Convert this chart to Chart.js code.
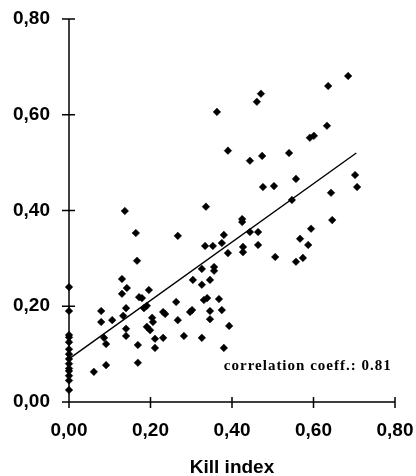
<!DOCTYPE html>
<html>
<head>
<meta charset="utf-8">
<script src="https://cdn.jsdelivr.net/npm/chart.js@4/dist/chart.umd.min.js"></script>
<style>
  html, body { margin: 0; padding: 0; background: #fff; }
  #wrap { width: 416px; height: 476px; }
</style>
</head>
<body>
<div id="wrap"><canvas id="killChart" width="416" height="476"></canvas></div>
<script>
// kill index (x) and measured value (y) for each sample
const killIndex = [
  0, 0, 0, 0, 0, 0, 0, 0, 0, 0, 0, 0, 0, 0,
  0.061, 0.079, 0.079, 0.086, 0.091, 0.091, 0.106, 0.130, 0.130, 0.133,
  0.137, 0.140, 0.140, 0.140, 0.142, 0.164, 0.167, 0.169, 0.169, 0.172,
  0.179, 0.184, 0.191, 0.196, 0.191, 0.199, 0.204, 0.206, 0.211, 0.211,
  0.231, 0.236, 0.231, 0.263, 0.267, 0.267, 0.282, 0.297, 0.302, 0.304,
  0.326, 0.326, 0.326, 0.331, 0.339, 0.336, 0.334, 0.346, 0.346, 0.346,
  0.353, 0.356, 0.356, 0.363, 0.368, 0.375, 0.375, 0.380, 0.380, 0.390,
  0.390, 0.393, 0.425, 0.425, 0.427, 0.427, 0.444, 0.444, 0.461, 0.464,
  0.464, 0.471, 0.474, 0.476, 0.503, 0.506, 0.540, 0.547, 0.557, 0.557,
  0.567, 0.574, 0.587, 0.591, 0.601, 0.594, 0.633, 0.636, 0.643, 0.646,
  0.685, 0.702, 0.707
];
const values = [
  0.240, 0.190, 0.140, 0.135, 0.125, 0.110, 0.100, 0.090, 0.080, 0.070, 0.065, 0.055, 0.045, 0.025,
  0.063, 0.190, 0.167, 0.134, 0.121, 0.077, 0.171, 0.257, 0.226, 0.180,
  0.399, 0.196, 0.153, 0.138, 0.238, 0.353, 0.295, 0.119, 0.082, 0.219,
  0.217, 0.196, 0.201, 0.234, 0.157, 0.150, 0.176, 0.167, 0.132, 0.113,
  0.188, 0.184, 0.134, 0.209, 0.347, 0.171, 0.138, 0.188, 0.192, 0.255,
  0.278, 0.245, 0.134, 0.213, 0.217, 0.408, 0.326, 0.255, 0.190, 0.173,
  0.326, 0.282, 0.274, 0.606, 0.215, 0.332, 0.192, 0.349, 0.113, 0.525,
  0.311, 0.159, 0.382, 0.376, 0.324, 0.313, 0.504, 0.355, 0.627, 0.355,
  0.328, 0.644, 0.514, 0.449, 0.451, 0.303, 0.520, 0.422, 0.466, 0.293,
  0.341, 0.301, 0.328, 0.552, 0.556, 0.362, 0.577, 0.660, 0.437, 0.380,
  0.681, 0.474, 0.449
];
// regression line end points
const fitX = [0, 0.705];
const fitY = [0.09, 0.52];
const tickValues = [0, 0.2, 0.4, 0.6, 0.8];
const note = "correlation coeff.: 0.81";

const fmt = (v) => v.toFixed(2).replace(".", ",");

// axis lines with ticks crossing the axis, like the printed figure
const axesPlugin = {
  id: "axes",
  afterDraw(chart) {
    const ctx = chart.ctx;
    const xs = chart.scales.x;
    const ys = chart.scales.y;
    const x0 = xs.getPixelForValue(0);
    const y0 = ys.getPixelForValue(0);
    ctx.save();
    ctx.setLineDash([]);
    ctx.strokeStyle = "#000";
    ctx.lineWidth = 1.5;
    ctx.beginPath();
    ctx.moveTo(x0, ys.getPixelForValue(0.8));
    ctx.lineTo(x0, y0 + 6);
    ctx.moveTo(x0 - 6, y0);
    ctx.lineTo(xs.getPixelForValue(0.8), y0);
    tickValues.forEach((v) => {
      const py = ys.getPixelForValue(v);
      ctx.moveTo(x0 - 7, py);
      ctx.lineTo(x0 + 6, py);
      const px = xs.getPixelForValue(v);
      ctx.moveTo(px, y0 - 5);
      ctx.lineTo(px, y0 + 6);
    });
    ctx.stroke();

    ctx.fillStyle = "#000";
    ctx.font = "bold 15px 'Liberation Serif', 'Times New Roman', serif";
    ctx.letterSpacing = "1px";
    ctx.textBaseline = "middle";
    ctx.textAlign = "left";
    ctx.fillText(note, xs.getPixelForValue(0.38), ys.getPixelForValue(0.075));
    ctx.restore();
  },
};

document.addEventListener("DOMContentLoaded", function () {
  const ctx = document.getElementById("killChart").getContext("2d");
  const labelFont = { family: "'Liberation Sans', Arial, sans-serif", size: 19, weight: "bold" };

  new Chart(ctx, {
    type: "scatter",
    data: {
      datasets: [
        {
          label: "samples",
          data: killIndex.map((x, i) => ({ x: x, y: values[i] })),
          pointStyle: "rectRot",
          pointRadius: 3.8,
          backgroundColor: "#000",
          borderColor: "#000",
          borderWidth: 0.5,
          clip: false,
        },
        {
          type: "line",
          label: "fit",
          data: fitX.map((x, i) => ({ x: x, y: fitY[i] })),
          borderColor: "#000",
          borderWidth: 1.4,
          pointRadius: 0,
          fill: false,
          clip: false,
        },
      ],
    },
    options: {
      responsive: false,
      animation: false,
      layout: { autoPadding: false, padding: { left: 0, top: 19, right: 21, bottom: 0 } },
      plugins: {
        legend: { display: false },
        tooltip: { enabled: false },
      },
      scales: {
        x: {
          type: "linear",
          min: 0,
          max: 0.8,
          afterFit: (s) => {
            s.height = 74;
            s.paddingLeft = 0;
            s.paddingRight = 0;
          },
          afterBuildTicks: (s) => { s.ticks = tickValues.map((v) => ({ value: v })); },
          grid: { display: false, drawTicks: false, tickLength: 0 },
          border: { display: false },
          ticks: { color: "#000", font: labelFont, padding: 17, callback: (v) => fmt(v), maxRotation: 0 },
          title: {
            display: true,
            text: "Kill index",
            color: "#000",
            font: { family: "'Liberation Sans', Arial, sans-serif", size: 19, weight: "bold", lineHeight: 0.85 },
            padding: 0,
          },
        },
        y: {
          type: "linear",
          min: 0,
          max: 0.8,
          afterFit: (s) => {
            s.width = 69;
            s.paddingTop = 0;
            s.paddingBottom = 0;
          },
          afterBuildTicks: (s) => { s.ticks = tickValues.map((v) => ({ value: v })); },
          grid: { display: false, drawTicks: false, tickLength: 0 },
          border: { display: false },
          ticks: { color: "#000", font: labelFont, padding: 19, callback: (v) => fmt(v) },
        },
      },
    },
    plugins: [axesPlugin],
  });
});
</script>
</body>
</html>
